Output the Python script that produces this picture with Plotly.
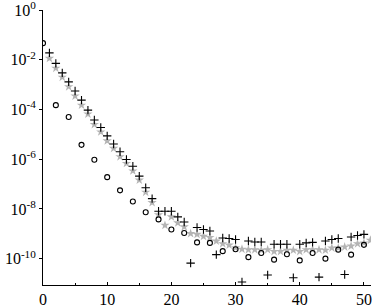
import plotly.graph_objects as go

# circles (even x)
circ_x = list(range(0, 51, 2))
circ_y = [4.7e-2, 1.5e-4, 5.0e-5, 3.8e-6, 9.5e-7, 1.9e-7, 5.6e-8, 2.0e-8, 7.4e-9, 3.8e-9,
          1.5e-9, 1.07e-9, 4.5e-10, 4.3e-10, 2.0e-10, 2.4e-10, 1.15e-10, 1.7e-10, 9.1e-11,
          1.5e-10, 8.5e-11, 1.7e-10, 1.0e-10, 2.3e-10, 1.45e-10, 3.6e-10]

# plus markers (x = 1..50)
plus_x = list(range(1, 51))
plus_y = [1.9e-2, 7.2e-3, 3.0e-3, 1.3e-3, 5.6e-4, 2.4e-4, 9.5e-5, 3.8e-5, 1.9e-5, 8.7e-6,
          4.1e-6, 2.0e-6, 9.8e-7, 5.2e-7, 2.1e-7, 7.1e-8, 2.6e-8, 8.1e-9, 8.1e-9, 8.1e-9,
          4.8e-9, 3.0e-9, 6.6e-11, 1.8e-9, 1.5e-9, 1.3e-9, 1.45e-10, 6.8e-10, 6.5e-10, 5.9e-10,
          1.15e-11, 5.1e-10, 4.7e-10, 4.7e-10, 2.2e-11, 3.8e-10, 3.8e-10, 3.8e-10, 1.7e-11, 3.8e-10,
          4.3e-10, 4.5e-10, 1.8e-11, 5.1e-10, 5.9e-10, 6.5e-10, 2.3e-11, 7.4e-10, 8.5e-10, 9.5e-10]

# gray stars (x = 1..51)
star_x = list(range(1, 52))
star_y = [1.15e-2, 4.6e-3, 2.0e-3, 8.3e-4, 3.5e-4, 1.5e-4, 6.6e-5, 2.5e-5, 1.26e-5, 5.5e-6,
          2.75e-6, 1.26e-6, 6.8e-7, 3.4e-7, 1.45e-7, 4.7e-8, 1.8e-8, 5.9e-9, 2.2e-9, 4.8e-9,
          2.75e-9, 1.9e-9, 1.02e-9, 9.5e-10, 7.9e-10, 7.1e-10, 5.1e-10, 4.0e-10, 3.5e-10, 2.75e-10,
          2.4e-10, 2.3e-10, 2.3e-10, 2.2e-10, 2.3e-10, 1.95e-10, 1.95e-10, 2.2e-10, 2.2e-10, 1.95e-10,
          2.3e-10, 2.3e-10, 2.3e-10, 2.2e-10, 2.7e-10, 2.7e-10, 2.95e-10, 3.2e-10, 4.0e-10, 4.3e-10,
          5.5e-10]

x_ticks = [0, 10, 20, 30, 40, 50]
y_ticks = [1e0, 1e-2, 1e-4, 1e-6, 1e-8, 1e-10]
y_ticktext = ["10<sup>0</sup>", "10<sup>-2</sup>", "10<sup>-4</sup>", "10<sup>-6</sup>",
              "10<sup>-8</sup>", "10<sup>-10</sup>"]

fig = go.Figure()
fig.add_trace(go.Scatter(x=star_x, y=star_y, mode="markers",
                         marker=dict(symbol="star", size=7, color="#b4b4b4", line=dict(width=0))))
fig.add_trace(go.Scatter(x=plus_x, y=plus_y, mode="markers",
                         marker=dict(symbol="cross-thin", size=6, color="black",
                                     line=dict(width=1.1, color="black"))))
fig.add_trace(go.Scatter(x=circ_x, y=circ_y, mode="markers",
                         marker=dict(symbol="circle-open", size=5, color="black",
                                     line=dict(width=1.1, color="black"))))

fig.update_layout(
    width=374, height=307,
    margin=dict(l=43, r=3, t=10, b=22, autoexpand=False),
    paper_bgcolor="white", plot_bgcolor="white",
    showlegend=False,
    font=dict(family="Liberation Serif", size=16, color="black"),
)
fig.update_xaxes(range=[0, 51.1], tickvals=x_ticks, ticks="inside", ticklen=3,
                 tickcolor="black", showline=True, linecolor="black", linewidth=1,
                 showgrid=False, zeroline=False, automargin=False, ticklabeloverflow="allow",
                 minor=dict(tickvals=[5, 15, 25, 35, 45], ticks="inside", ticklen=2, tickcolor="black"))
fig.update_yaxes(type="log", range=[-11.06, 0.005], tickvals=y_ticks, ticktext=y_ticktext,
                 ticks="outside", ticklen=3, tickcolor="black", showline=True, automargin=False,
                 ticklabeloverflow="allow",
                 linecolor="black", linewidth=1, showgrid=False, zeroline=False)

fig.write_html("out.html", config={"displayModeBar": False},
               post_script="document.body.style.margin='0';document.body.style.padding='0';")
